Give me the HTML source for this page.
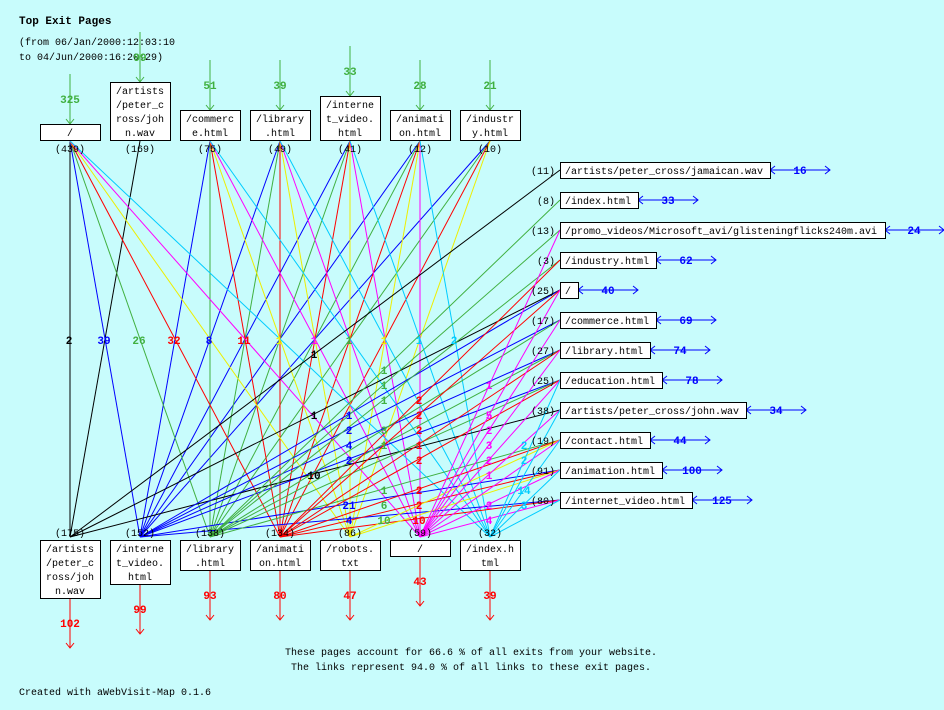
<!DOCTYPE html>
<html><head><meta charset="utf-8"><style>
html,body{margin:0;padding:0;background:#c8fcfc;}
svg{display:block;font-family:"Liberation Mono",monospace;}
.t{font-size:10px;fill:#000}
.b{font-size:11px;font-weight:bold}
</style></head><body>
<svg width="944" height="710" viewBox="0 0 944 710">
<rect width="944" height="710" fill="#c8fcfc"/>
<text x="19" y="24" class="b" fill="#000">Top Exit Pages</text>
<text x="19" y="45" class="t">(from 06/Jan/2000:12:03:10</text>
<text x="19" y="60" class="t">to 04/Jun/2000:16:20:29)</text>

<g stroke-width="1" fill="none">
<g stroke="#000"><line x1="70" y1="141" x2="70" y2="537"/><line x1="140" y1="141" x2="70" y2="537"/></g>
<g stroke="#00f"><line x1="70" y1="141" x2="140" y2="537"/><line x1="210" y1="141" x2="140" y2="537"/><line x1="280" y1="141" x2="140" y2="537"/><line x1="350" y1="141" x2="140" y2="537"/><line x1="420" y1="141" x2="140" y2="537"/><line x1="490" y1="141" x2="140" y2="537"/></g>
<g stroke="#40b040"><line x1="70" y1="141" x2="210" y2="537"/><line x1="210" y1="141" x2="210" y2="537"/><line x1="280" y1="141" x2="210" y2="537"/><line x1="350" y1="141" x2="210" y2="537"/><line x1="420" y1="141" x2="210" y2="537"/><line x1="490" y1="141" x2="210" y2="537"/></g>
<g stroke="#f00"><line x1="70" y1="141" x2="280" y2="537"/><line x1="210" y1="141" x2="280" y2="537"/><line x1="280" y1="141" x2="280" y2="537"/><line x1="350" y1="141" x2="280" y2="537"/><line x1="420" y1="141" x2="280" y2="537"/><line x1="490" y1="141" x2="280" y2="537"/></g>
<g stroke="#ee0"><line x1="70" y1="141" x2="350" y2="537"/><line x1="210" y1="141" x2="350" y2="537"/><line x1="280" y1="141" x2="350" y2="537"/><line x1="350" y1="141" x2="350" y2="537"/><line x1="420" y1="141" x2="350" y2="537"/><line x1="490" y1="141" x2="350" y2="537"/></g>
<g stroke="#f0f"><line x1="70" y1="141" x2="420" y2="537"/><line x1="210" y1="141" x2="420" y2="537"/><line x1="280" y1="141" x2="420" y2="537"/><line x1="350" y1="141" x2="420" y2="537"/><line x1="420" y1="141" x2="420" y2="537"/></g>
<g stroke="#0cf"><line x1="70" y1="141" x2="490" y2="537"/><line x1="210" y1="141" x2="490" y2="537"/><line x1="280" y1="141" x2="490" y2="537"/><line x1="350" y1="141" x2="490" y2="537"/><line x1="420" y1="141" x2="490" y2="537"/></g>

<g stroke="#000"><line x1="70" y1="537" x2="560" y2="170"/><line x1="70" y1="537" x2="560" y2="290"/><line x1="70" y1="537" x2="560" y2="410"/></g>
<g stroke="#00f"><line x1="140" y1="537" x2="560" y2="290"/><line x1="140" y1="537" x2="560" y2="320"/><line x1="140" y1="537" x2="560" y2="350"/><line x1="140" y1="537" x2="560" y2="380"/><line x1="140" y1="537" x2="560" y2="470"/><line x1="140" y1="537" x2="560" y2="500"/></g>
<g stroke="#40b040"><line x1="210" y1="537" x2="560" y2="200"/><line x1="210" y1="537" x2="560" y2="230"/><line x1="210" y1="537" x2="560" y2="260"/><line x1="210" y1="537" x2="560" y2="320"/><line x1="210" y1="537" x2="560" y2="350"/><line x1="210" y1="537" x2="560" y2="380"/><line x1="210" y1="537" x2="560" y2="440"/></g>
<g stroke="#f00"><line x1="280" y1="537" x2="560" y2="260"/><line x1="280" y1="537" x2="560" y2="290"/><line x1="280" y1="537" x2="560" y2="350"/><line x1="280" y1="537" x2="560" y2="380"/><line x1="280" y1="537" x2="560" y2="440"/><line x1="280" y1="537" x2="560" y2="470"/><line x1="280" y1="537" x2="560" y2="500"/></g>
<g stroke="#ee0"><line x1="350" y1="537" x2="560" y2="440"/><line x1="350" y1="537" x2="560" y2="470"/></g>
<g stroke="#f0f"><line x1="420" y1="537" x2="560" y2="230"/><line x1="420" y1="537" x2="560" y2="290"/><line x1="420" y1="537" x2="560" y2="320"/><line x1="420" y1="537" x2="560" y2="350"/><line x1="420" y1="537" x2="560" y2="380"/><line x1="420" y1="537" x2="560" y2="410"/><line x1="420" y1="537" x2="560" y2="440"/><line x1="420" y1="537" x2="560" y2="470"/><line x1="420" y1="537" x2="560" y2="500"/></g>
<g stroke="#0cf"><line x1="490" y1="537" x2="560" y2="380"/><line x1="490" y1="537" x2="560" y2="410"/><line x1="490" y1="537" x2="560" y2="440"/><line x1="490" y1="537" x2="560" y2="470"/><line x1="490" y1="537" x2="560" y2="500"/></g>

<g stroke="#40b040">
<line x1="70" y1="74" x2="70" y2="124"/><polyline points="66,119 70,124 74,119"/>
<line x1="140" y1="32" x2="140" y2="82"/><polyline points="136,77 140,82 144,77"/>
<line x1="210" y1="60" x2="210" y2="110"/><polyline points="206,105 210,110 214,105"/>
<line x1="280" y1="60" x2="280" y2="110"/><polyline points="276,105 280,110 284,105"/>
<line x1="350" y1="46" x2="350" y2="96"/><polyline points="346,91 350,96 354,91"/>
<line x1="420" y1="60" x2="420" y2="110"/><polyline points="416,105 420,110 424,105"/>
<line x1="490" y1="60" x2="490" y2="110"/><polyline points="486,105 490,110 494,105"/>
</g>
<g stroke="#f00">
<line x1="70" y1="598" x2="70" y2="648"/><polyline points="66,643 70,648 74,643"/>
<line x1="140" y1="584" x2="140" y2="634"/><polyline points="136,629 140,634 144,629"/>
<line x1="210" y1="570" x2="210" y2="620"/><polyline points="206,615 210,620 214,615"/>
<line x1="280" y1="570" x2="280" y2="620"/><polyline points="276,615 280,620 284,615"/>
<line x1="350" y1="570" x2="350" y2="620"/><polyline points="346,615 350,620 354,615"/>
<line x1="420" y1="556" x2="420" y2="606"/><polyline points="416,601 420,606 424,601"/>
<line x1="490" y1="570" x2="490" y2="620"/><polyline points="486,615 490,620 494,615"/>
</g>
<g stroke="#00f">
<line x1="770" y1="170" x2="830" y2="170"/><polyline points="775,166 770,170 775,174"/><polyline points="825,166 830,170 825,174"/>
<line x1="638" y1="200" x2="698" y2="200"/><polyline points="643,196 638,200 643,204"/><polyline points="693,196 698,200 693,204"/>
<line x1="885" y1="230" x2="944" y2="230"/><polyline points="890,226 885,230 890,234"/><polyline points="939,226 944,230 939,234"/>
<line x1="656" y1="260" x2="716" y2="260"/><polyline points="661,256 656,260 661,264"/><polyline points="711,256 716,260 711,264"/>
<line x1="578" y1="290" x2="638" y2="290"/><polyline points="583,286 578,290 583,294"/><polyline points="633,286 638,290 633,294"/>
<line x1="656" y1="320" x2="716" y2="320"/><polyline points="661,316 656,320 661,324"/><polyline points="711,316 716,320 711,324"/>
<line x1="650" y1="350" x2="710" y2="350"/><polyline points="655,346 650,350 655,354"/><polyline points="705,346 710,350 705,354"/>
<line x1="662" y1="380" x2="722" y2="380"/><polyline points="667,376 662,380 667,384"/><polyline points="717,376 722,380 717,384"/>
<line x1="746" y1="410" x2="806" y2="410"/><polyline points="751,406 746,410 751,414"/><polyline points="801,406 806,410 801,414"/>
<line x1="650" y1="440" x2="710" y2="440"/><polyline points="655,436 650,440 655,444"/><polyline points="705,436 710,440 705,444"/>
<line x1="662" y1="470" x2="722" y2="470"/><polyline points="667,466 662,470 667,474"/><polyline points="717,466 722,470 717,474"/>
<line x1="692" y1="500" x2="752" y2="500"/><polyline points="697,496 692,500 697,504"/><polyline points="747,496 752,500 747,504"/>
</g>
</g>

<g fill="#fff" stroke="#000">
<rect x="40.5" y="124.5" width="60" height="16"/>
<rect x="110.5" y="82.5" width="60" height="58"/>
<rect x="180.5" y="110.5" width="60" height="30"/>
<rect x="250.5" y="110.5" width="60" height="30"/>
<rect x="320.5" y="96.5" width="60" height="44"/>
<rect x="390.5" y="110.5" width="60" height="30"/>
<rect x="460.5" y="110.5" width="60" height="30"/>
<rect x="40.5" y="540.5" width="60" height="58"/>
<rect x="110.5" y="540.5" width="60" height="44"/>
<rect x="180.5" y="540.5" width="60" height="30"/>
<rect x="250.5" y="540.5" width="60" height="30"/>
<rect x="320.5" y="540.5" width="60" height="30"/>
<rect x="390.5" y="540.5" width="60" height="16"/>
<rect x="460.5" y="540.5" width="60" height="30"/>
<rect x="560.5" y="162.5" width="210" height="16"/>
<rect x="560.5" y="192.5" width="78" height="16"/>
<rect x="560.5" y="222.5" width="325" height="16"/>
<rect x="560.5" y="252.5" width="96" height="16"/>
<rect x="560.5" y="282.5" width="18" height="16"/>
<rect x="560.5" y="312.5" width="96" height="16"/>
<rect x="560.5" y="342.5" width="90" height="16"/>
<rect x="560.5" y="372.5" width="102" height="16"/>
<rect x="560.5" y="402.5" width="186" height="16"/>
<rect x="560.5" y="432.5" width="90" height="16"/>
<rect x="560.5" y="462.5" width="102" height="16"/>
<rect x="560.5" y="492.5" width="132" height="16"/>
</g>

<g class="t" text-anchor="middle">
<text x="70" y="136">/</text>
<text x="140" y="94">/artists</text><text x="140" y="108">/peter_c</text><text x="140" y="122">ross/joh</text><text x="140" y="136">n.wav</text>
<text x="210" y="122">/commerc</text><text x="210" y="136">e.html</text>
<text x="280" y="122">/library</text><text x="280" y="136">.html</text>
<text x="350" y="108">/interne</text><text x="350" y="122">t_video.</text><text x="350" y="136">html</text>
<text x="420" y="122">/animati</text><text x="420" y="136">on.html</text>
<text x="490" y="122">/industr</text><text x="490" y="136">y.html</text>
<text x="70" y="152">(439)</text><text x="140" y="152">(169)</text><text x="210" y="152">(75)</text><text x="280" y="152">(49)</text><text x="350" y="152">(41)</text><text x="420" y="152">(12)</text><text x="490" y="152">(10)</text>
<text x="70" y="536">(175)</text><text x="140" y="536">(152)</text><text x="210" y="536">(138)</text><text x="280" y="536">(134)</text><text x="350" y="536">(86)</text><text x="420" y="536">(59)</text><text x="490" y="536">(32)</text>
<text x="70" y="552">/artists</text><text x="70" y="566">/peter_c</text><text x="70" y="580">ross/joh</text><text x="70" y="594">n.wav</text>
<text x="140" y="552">/interne</text><text x="140" y="566">t_video.</text><text x="140" y="580">html</text>
<text x="210" y="552">/library</text><text x="210" y="566">.html</text>
<text x="280" y="552">/animati</text><text x="280" y="566">on.html</text>
<text x="350" y="552">/robots.</text><text x="350" y="566">txt</text>
<text x="420" y="552">/</text>
<text x="490" y="552">/index.h</text><text x="490" y="566">tml</text>
</g>

<g class="t">
<text x="565" y="174">/artists/peter_cross/jamaican.wav</text>
<text x="565" y="204">/index.html</text>
<text x="565" y="234">/promo_videos/Microsoft_avi/glisteningflicks240m.avi</text>
<text x="565" y="264">/industry.html</text>
<text x="565" y="294">/</text>
<text x="565" y="324">/commerce.html</text>
<text x="565" y="354">/library.html</text>
<text x="565" y="384">/education.html</text>
<text x="565" y="414">/artists/peter_cross/john.wav</text>
<text x="565" y="444">/contact.html</text>
<text x="565" y="474">/animation.html</text>
<text x="565" y="504">/internet_video.html</text>
</g>
<g class="t" text-anchor="end">
<text x="555" y="174">(11)</text><text x="555" y="204">(8)</text><text x="555" y="234">(13)</text><text x="555" y="264">(3)</text><text x="555" y="294">(25)</text><text x="555" y="324">(17)</text><text x="555" y="354">(27)</text><text x="555" y="384">(25)</text><text x="555" y="414">(38)</text><text x="555" y="444">(19)</text><text x="555" y="474">(91)</text><text x="555" y="504">(80)</text>
</g>

<g class="b" text-anchor="middle" fill="#00f">
<text x="800" y="174">16</text><text x="668" y="204">33</text><text x="914" y="234">24</text><text x="686" y="264">62</text><text x="608" y="294">40</text><text x="686" y="324">69</text><text x="680" y="354">74</text><text x="692" y="384">78</text><text x="776" y="414">34</text><text x="680" y="444">44</text><text x="692" y="474">100</text><text x="722" y="504">125</text>
</g>
<g class="b" text-anchor="middle" fill="#40b040">
<text x="70" y="103">325</text><text x="140" y="61">99</text><text x="210" y="89">51</text><text x="280" y="89">39</text><text x="350" y="75">33</text><text x="420" y="89">28</text><text x="490" y="89">21</text>
</g>
<g class="b" text-anchor="middle" fill="#f00">
<text x="70" y="627">102</text><text x="140" y="613">99</text><text x="210" y="599">93</text><text x="280" y="599">80</text><text x="350" y="599">47</text><text x="420" y="585">43</text><text x="490" y="599">39</text>
</g>
<g class="b" text-anchor="middle">
<text x="69" y="344" fill="#000">2</text><text x="104" y="344" fill="#00f">39</text><text x="139" y="344" fill="#40b040">26</text><text x="174" y="344" fill="#f00">32</text><text x="209" y="344" fill="#00f">8</text><text x="244" y="344" fill="#f00">11</text><text x="279" y="344" fill="#ee0">1</text><text x="314" y="344" fill="#f0f">1</text><text x="349" y="344" fill="#40b040">1</text><text x="384" y="344" fill="#ee0">1</text><text x="419" y="344" fill="#0cf">1</text><text x="454" y="344" fill="#0cf">2</text>
<text x="314" y="358" fill="#000">1</text><text x="314" y="419" fill="#000">1</text><text x="314" y="479" fill="#000">10</text>
<text x="349" y="419" fill="#00f">1</text><text x="349" y="434" fill="#00f">2</text><text x="349" y="449" fill="#00f">4</text><text x="349" y="464" fill="#00f">2</text><text x="349" y="509" fill="#00f">21</text><text x="349" y="524" fill="#00f">4</text>
<text x="384" y="374" fill="#40b040">1</text><text x="384" y="389" fill="#40b040">1</text><text x="384" y="404" fill="#40b040">1</text><text x="384" y="434" fill="#40b040">3</text><text x="384" y="449" fill="#40b040">1</text><text x="384" y="494" fill="#40b040">1</text><text x="384" y="509" fill="#40b040">6</text><text x="384" y="524" fill="#40b040">10</text>
<text x="419" y="404" fill="#f00">2</text><text x="419" y="419" fill="#f00">2</text><text x="419" y="434" fill="#f00">2</text><text x="419" y="449" fill="#f00">1</text><text x="419" y="464" fill="#f00">2</text><text x="419" y="494" fill="#f00">2</text><text x="419" y="509" fill="#f00">2</text><text x="419" y="524" fill="#f00">10</text>
<text x="489" y="389" fill="#f0f">1</text><text x="489" y="419" fill="#f0f">5</text><text x="489" y="434" fill="#f0f">2</text><text x="489" y="449" fill="#f0f">3</text><text x="489" y="464" fill="#f0f">2</text><text x="489" y="479" fill="#f0f">1</text><text x="489" y="509" fill="#f0f">2</text><text x="489" y="524" fill="#f0f">4</text>
<text x="524" y="449" fill="#0cf">2</text><text x="524" y="464" fill="#0cf">2</text><text x="524" y="494" fill="#0cf">14</text><text x="524" y="509" fill="#0cf">3</text>
</g>

<g class="t" text-anchor="middle">
<text x="471" y="655">These pages account for 66.6 % of all exits from your website.</text>
<text x="471" y="670">The links represent 94.0 % of all links to these exit pages.</text>
</g>
<text x="19" y="695" class="t">Created with aWebVisit-Map 0.1.6</text>
</svg>
</body></html>
